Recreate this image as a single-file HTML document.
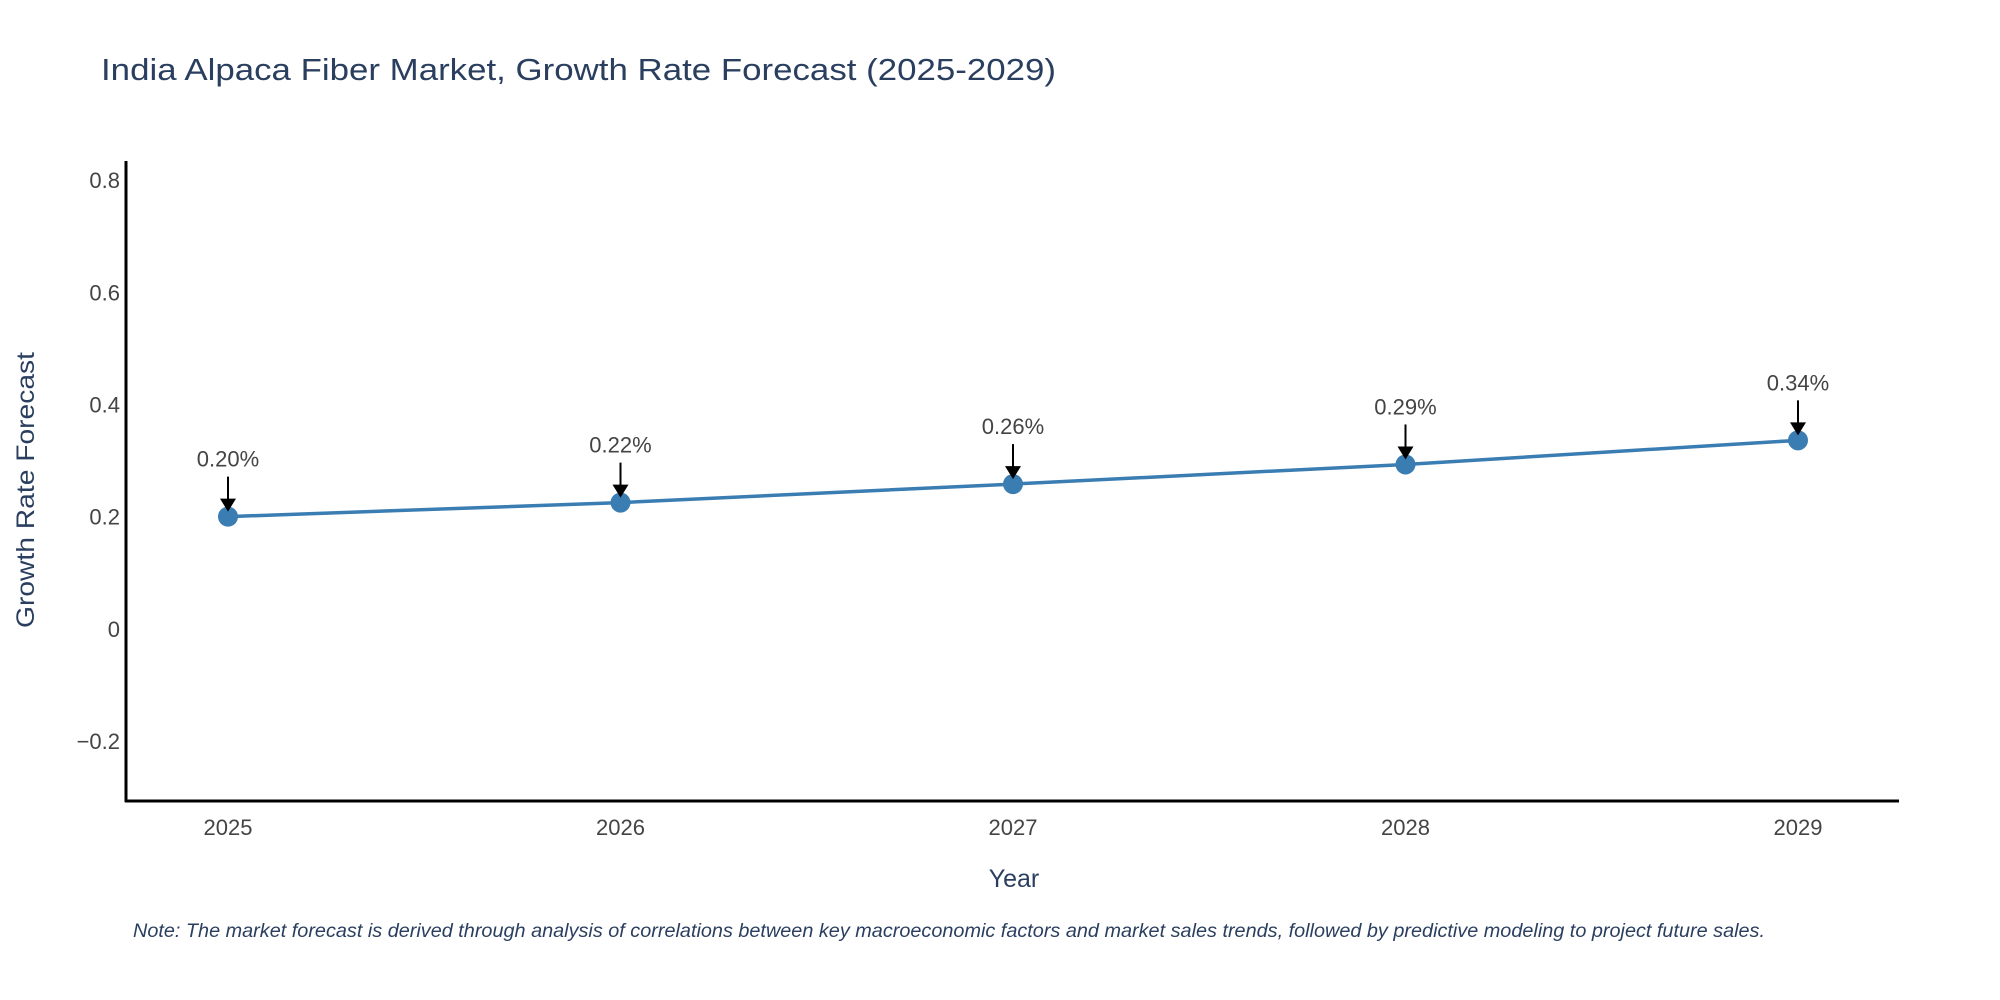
<!DOCTYPE html>
<html><head><meta charset="utf-8"><style>
html,body{margin:0;padding:0;background:#fff;}
svg{display:block;font-family:"Liberation Sans",sans-serif;}
</style></head><body>
<svg id="chart" width="2000" height="1000" viewBox="0 0 2000 1000">
<text x="101" y="80" font-size="31" fill="#2a3f5f" textLength="955" lengthAdjust="spacingAndGlyphs">India Alpaca Fiber Market, Growth Rate Forecast (2025-2029)</text>
<g id="yticks"></g>
<g id="xticks"></g>
<line x1="126" y1="161" x2="126" y2="802" stroke="#000" stroke-width="3"/>
<line x1="125" y1="801" x2="1899" y2="801" stroke="#000" stroke-width="3"/>
<text transform="translate(34,490) rotate(-90)" text-anchor="middle" font-size="25" fill="#2a3f5f" textLength="276" lengthAdjust="spacingAndGlyphs">Growth Rate Forecast</text>
<text x="1014" y="887" text-anchor="middle" font-size="25" fill="#2a3f5f">Year</text>
<g id="series"></g>
<text x="133" y="937" font-size="19" font-style="italic" fill="#2a3f5f" textLength="1632" lengthAdjust="spacingAndGlyphs">Note: The market forecast is derived through analysis of correlations between key macroeconomic factors and market sales trends, followed by predictive modeling to project future sales.</text>
</svg>
<script>
const years = ["2025","2026","2027","2028","2029"];
const growth = [0.200, 0.225, 0.258, 0.293, 0.336];
const labels = ["0.20%","0.22%","0.26%","0.29%","0.34%"];
const yTickValues = [-0.2, 0, 0.2, 0.4, 0.6, 0.8];
const yTickLabels = ["\u22120.2","0","0.2","0.4","0.6","0.8"];

const NS = "http://www.w3.org/2000/svg";
const yMin = -0.307, yMax = 0.834, pxTop = 161, pxBot = 801;
function yScale(v){ return pxBot - (v - yMin) / (yMax - yMin) * (pxBot - pxTop); }
function xScale(i){ return 228 + i * (1798 - 228) / (years.length - 1); }
function mk(tag, attrs, parent){ const e = document.createElementNS(NS, tag); for (const k in attrs) e.setAttribute(k, attrs[k]); parent.appendChild(e); return e; }

const yt = document.getElementById("yticks");
yTickValues.forEach((v, i) => {
  const t = mk("text", {x: 120, y: yScale(v) + 8, "text-anchor": "end", "font-size": 22, fill: "#444"}, yt);
  
  
  t.textContent = yTickLabels[i];
});
const xt = document.getElementById("xticks");
years.forEach((y, i) => {
  const t = mk("text", {x: xScale(i), y: 835, "text-anchor": "middle", "font-size": 22, fill: "#444"}, xt);
  
  
  t.textContent = y;
});

const g = document.getElementById("series");
const pts = growth.map((v, i) => xScale(i) + "," + yScale(v)).join(" ");
const line = mk("polyline", {points: pts, fill: "none", stroke: "#3a7db3", "stroke-width": 3.5}, g);


growth.forEach((v, i) => {
  const cx = xScale(i), cy = yScale(v);
  const c = mk("circle", {cx: cx, cy: cy, r: 10, fill: "#3a7db3"}, g);
  
  
  const a = mk("line", {x1: cx, y1: cy - 40, x2: cx, y2: cy - 16, stroke: "#000", "stroke-width": 2}, g);
  
  
  const h = mk("polygon", {points: `${cx-8},${cy-18} ${cx+8},${cy-18} ${cx},${cy-5}`, fill: "#000"}, g);
  
  
  const t = mk("text", {x: cx, y: cy - 50, "text-anchor": "middle", "font-size": 22, fill: "#444"}, g);
  
  
  t.textContent = labels[i];
});
</script>
</body></html>
